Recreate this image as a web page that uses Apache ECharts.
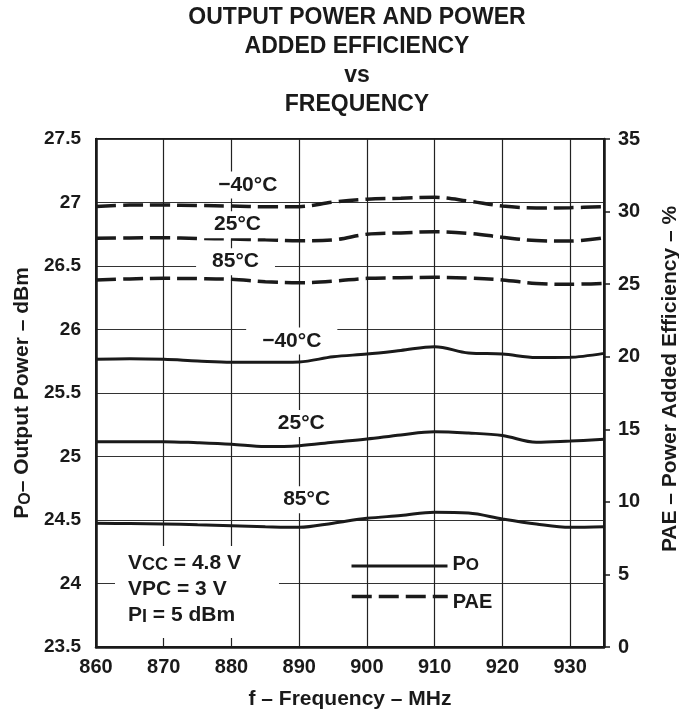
<!DOCTYPE html>
<html>
<head>
<meta charset="utf-8">
<script src="https://cdn.jsdelivr.net/npm/echarts@6/dist/echarts.min.js"></script>
<style>
html,body{margin:0;padding:0;background:#fff;}
#c{width:679px;height:712px;}
</style>
</head>
<body>
<div id="c"></div>
<script>
// ---- data ----
const freq    = [860, 865, 870, 875, 880, 885, 890, 895, 900, 905, 910, 915, 920, 925, 930, 935];
// Output power PO (dBm), left axis
const poM40   = [25.765, 25.77, 25.765, 25.752, 25.742, 25.742, 25.745, 25.785, 25.807, 25.835, 25.865, 25.815, 25.807, 25.78, 25.781, 25.812];
const po25    = [25.117, 25.117, 25.117, 25.108, 25.096, 25.078, 25.085, 25.112, 25.138, 25.17, 25.195, 25.185, 25.165, 25.112, 25.122, 25.135];
const po85    = [24.474, 24.472, 24.469, 24.462, 24.455, 24.447, 24.442, 24.475, 24.513, 24.535, 24.561, 24.555, 24.508, 24.468, 24.442, 24.447];
// Power added efficiency PAE (%), right axis
const paeM40  = [30.35, 30.45, 30.45, 30.42, 30.38, 30.33, 30.34, 30.65, 30.85, 30.92, 30.98, 30.72, 30.38, 30.25, 30.27, 30.34];
const pae25   = [28.16, 28.18, 28.2, 28.15, 28.11, 28.05, 27.99, 28.05, 28.44, 28.53, 28.61, 28.5, 28.23, 28.0, 27.97, 28.2];
const pae85   = [25.29, 25.36, 25.4, 25.38, 25.33, 25.17, 25.1, 25.2, 25.4, 25.44, 25.47, 25.42, 25.29, 25.05, 24.99, 25.06];
const tempLabels = ['\u221240\u00b0C', '25\u00b0C', '85\u00b0C'];

const pairs = arr => freq.map((f, i) => [f, arr[i]]);
const FONT = '"Liberation Sans", Arial, Helvetica, sans-serif';
const INK = '#1a1a1a';

function tempMark(coord, text) {
  return {
    symbol: 'circle', symbolSize: 0, silent: true,
    label: {
      show: true, position: 'inside', formatter: text,
      fontFamily: FONT, fontWeight: 'bold', fontSize: 21, color: INK,
      backgroundColor: '#fff', padding: [3, 16]
    },
    data: [{ coord: coord }]
  };
}

function solid(arr, mark) {
  return {
    type: 'line', name: 'PO', yAxisIndex: 0, data: pairs(arr),
    showSymbol: false, symbol: 'none', smooth: 0.35,
    lineStyle: { color: INK, width: 3, type: 'solid' },
    itemStyle: { color: INK },
    markPoint: mark, z: 3
  };
}
function dashed(arr, mark) {
  return {
    type: 'line', name: 'PAE', yAxisIndex: 1, data: pairs(arr),
    showSymbol: false, symbol: 'none', smooth: 0.35,
    lineStyle: { color: INK, width: 3.5, type: [20, 7] },
    itemStyle: { color: INK },
    markPoint: mark, z: 3
  };
}

const bold = (size) => ({ fontFamily: FONT, fontWeight: 'bold', fontSize: size, color: INK });

function legendOf(name, top, fmt, pad, lw) {
  return {
    data: [name], orient: 'vertical', left: 350, top: top, padding: 0,
    itemWidth: 96, itemHeight: 14, itemGap: 0,
    itemStyle: { color: 'transparent', borderColor: 'transparent', borderWidth: 0 },
    lineStyle: { width: lw, color: INK },
    formatter: fmt,
    textStyle: {
      ...bold(20), padding: pad,
      rich: {
        b: { ...bold(20), lineHeight: 26, verticalAlign: 'bottom' },
        s: { ...bold(17), lineHeight: 12, verticalAlign: 'bottom' }
      }
    }
  };
}

const chart = echarts.init(document.getElementById('c'), null, { renderer: 'canvas' });
chart.setOption({
  backgroundColor: '#fff',
  animation: false,
  title: {
    text: 'OUTPUT POWER AND POWER\nADDED EFFICIENCY\nvs\nFREQUENCY',
    left: 352, top: -2, textAlign: 'center',
    textStyle: { fontFamily: FONT, fontWeight: 'bold', fontSize: 23, lineHeight: 29, color: INK }
  },
  grid: {
    left: 96, right: 75, top: 139, bottom: 65, containLabel: false, outerBoundsMode: 'none',
    show: true, borderColor: INK, borderWidth: 2, backgroundColor: 'transparent'
  },
  legend: [
    legendOf('PO', 554, () => '{b|P}{s|O}', [0, 0, 10, 0], 3),
    legendOf('PAE', 591, () => '{b|PAE}', [6, 0, 0, 0], 3.5)
  ],
  xAxis: {
    type: 'value', min: 860, max: 935, interval: 10,
    name: 'f \u2013 Frequency \u2013 MHz', nameLocation: 'middle', nameGap: 42,
    nameTextStyle: bold(21),
    axisLine: { lineStyle: { color: INK, width: 2.5 } },
    axisTick: { show: false },
    axisLabel: { ...bold(20), margin: 10, showMaxLabel: false },
    splitLine: { show: true, lineStyle: { color: '#222', width: 1.2 } }
  },
  yAxis: [
    {
      type: 'value', min: 23.5, max: 27.5, interval: 0.5, position: 'left',
      name: '{b|P}{s|O}{b|\u2013 Output Power \u2013 dBm}', nameLocation: 'middle', nameGap: 53,
      nameTextStyle: {
        ...bold(21),
        rich: {
          b: { ...bold(21), lineHeight: 26, verticalAlign: 'bottom' },
          s: { ...bold(16), lineHeight: 12, verticalAlign: 'bottom' }
        }
      },
      axisLine: { show: true, lineStyle: { color: INK, width: 2.5 } },
      axisTick: { show: false },
      axisLabel: { ...bold(19), margin: 15 },
      splitLine: { show: true, lineStyle: { color: '#333', width: 1 } }
    },
    {
      type: 'value', min: 0, max: 35, interval: 5, position: 'right',
      name: 'PAE \u2013 Power Added Efficiency \u2013 %', nameLocation: 'middle', nameGap: 56,
      nameRotate: 90,
      nameTextStyle: { ...bold(21), padding: [0, 0, 0, 28] },
      axisLine: { show: true, lineStyle: { color: INK, width: 2.5 } },
      axisTick: { show: true, length: 6, lineStyle: { color: INK, width: 1.5 } },
      axisLabel: { ...bold(20), margin: 14 },
      splitLine: { show: false }
    }
  ],
  graphic: [{
    type: 'text', left: 115, top: 546, z: 5,
    style: {
      text: '{b|V}{s|CC}{b| = 4.8 V}\n{b|VPC = 3 V}\n{b|P}{s|I}{b| = 5 dBm}',
      fill: INK, backgroundColor: '#fff', padding: [2, 38, 12, 13],
      rich: {
        b: { fontFamily: FONT, fontWeight: 'bold', fontSize: 21, lineHeight: 26, verticalAlign: 'bottom', fill: INK },
        s: { fontFamily: FONT, fontWeight: 'bold', fontSize: 18, lineHeight: 16, verticalAlign: 'bottom', fill: INK }
      }
    }
  }],
  series: [
    dashed(paeM40, tempMark([882.4, 31.83], tempLabels[0])),
    dashed(pae25,  tempMark([880.9, 29.1],  tempLabels[1])),
    dashed(pae85,  tempMark([880.6, 26.55], tempLabels[2])),
    solid(poM40,   tempMark([888.9, 25.91], tempLabels[0])),
    solid(po25,    tempMark([890.3, 25.26], tempLabels[1])),
    solid(po85,    tempMark([891.1, 24.66], tempLabels[2]))
  ]
});
</script>
</body>
</html>
